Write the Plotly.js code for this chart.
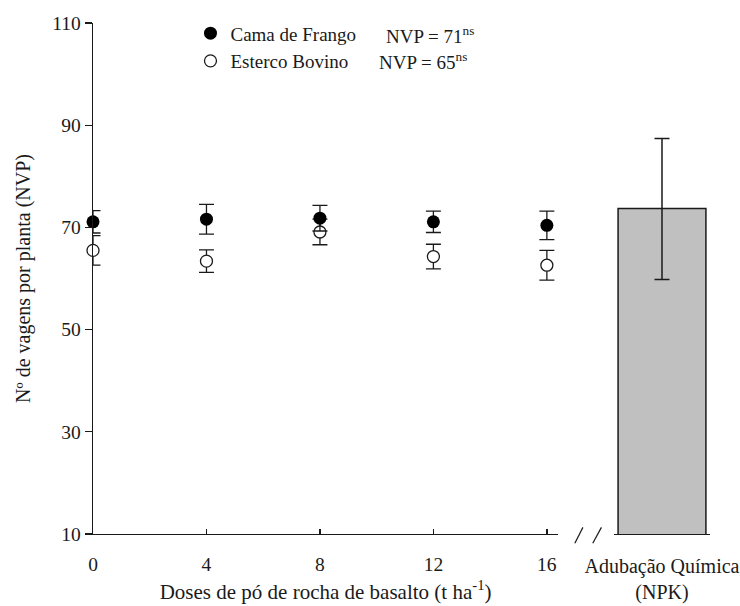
<!DOCTYPE html>
<html>
<head>
<meta charset="utf-8">
<script src="https://cdn.plot.ly/plotly-3.0.1.min.js"></script>
<style>html,body{margin:0;padding:0;background:#fff;}#chart{width:740px;height:606px;}</style>
</head>
<body>
<div id="chart"></div>
<script>
// ---- data ----
const doses = [0, 4, 8, 12, 16];
const camaMean = [71.1, 71.6, 71.8, 71.1, 70.4];
const camaErr = [2.2, 2.9, 2.5, 2.1, 2.8];
const estercoMean = [65.5, 63.4, 69.1, 64.3, 62.6];
const estercoErr = [2.9, 2.2, 2.5, 2.4, 2.9];
const npkCategory = ["Adubação Química<br>(NPK)"];
const npkMean = [73.7];
const npkErrPlus = [13.7];
const npkErrMinus = [13.9];
const seriesNames = ["Cama de Frango", "Esterco Bovino"];
const seriesStats = ["NVP = 71<sup>ns</sup>", "NVP = 65<sup>ns</sup>"];
const yTicks = [10, 30, 50, 70, 90, 110];

const FONT = '"Liberation Serif", "Times New Roman", Times, serif';
const INK = "#1a1a1a";

const traces = [
  {
    type: "scatter", mode: "markers", name: seriesNames[1],
    x: doses, y: estercoMean, xaxis: "x", yaxis: "y", cliponaxis: false,
    marker: {symbol: "circle", size: 12, color: "#ffffff", line: {color: INK, width: 1.3}},
    error_y: {type: "data", array: estercoErr, visible: true, color: INK, thickness: 1.3, width: 7.5}
  },
  {
    type: "scatter", mode: "markers", name: seriesNames[0],
    x: doses, y: camaMean, xaxis: "x", yaxis: "y", cliponaxis: false,
    marker: {symbol: "circle", size: 13, color: "#000000", line: {color: "#000", width: 0}},
    error_y: {type: "data", array: camaErr, visible: true, color: INK, thickness: 1.3, width: 7.5}
  },
  {
    type: "bar", name: "NPK", showlegend: false,
    x: npkCategory, y: npkMean, xaxis: "x2", yaxis: "y", width: 0.915,
    marker: {color: "#c0c0c0", line: {color: INK, width: 1.5}},
    error_y: {type: "data", array: npkErrPlus, arrayminus: npkErrMinus, symmetric: false, visible: true, color: INK, thickness: 1.5, width: 7.5}
  }
];

const layout = {
  width: 740, height: 606,
  margin: {l: 93, r: 30, t: 23, b: 72},
  paper_bgcolor: "#fff", plot_bgcolor: "#fff",
  font: {family: FONT, size: 19.5, color: INK},
  showlegend: true,
  legend: {
    x: 0.158, y: 1.017, xanchor: "left", yanchor: "top",
    traceorder: "reversed", bgcolor: "rgba(0,0,0,0)",
    font: {family: FONT, size: 19, color: INK}, itemwidth: 30
  },
  xaxis: {
    domain: [0, 0.754], range: [0, 16.4], tickvals: doses,
    showline: true, linecolor: INK, linewidth: 1.3,
    ticks: "inside", ticklen: 5, tickwidth: 1.3, tickcolor: INK,
    showgrid: false, zeroline: false, anchor: "y",
    tickfont: {family: FONT, size: 19.5, color: INK}, ticklabelstandoff: 12,
    title: {text: "Doses de pó de rocha de basalto (t ha<sup>-1</sup>)", font: {family: FONT, size: 21, color: INK}, standoff: 10}
  },
  xaxis2: {
    domain: [0.8444, 1], range: [-0.5, 0.5], type: "category",
    showline: true, linecolor: INK, linewidth: 1.3,
    ticks: "", showgrid: false, zeroline: false, anchor: "y",
    tickfont: {family: FONT, size: 20, color: INK}, ticklabelstandoff: 14
  },
  yaxis: {
    range: [10, 110], tickvals: yTicks,
    showline: true, linecolor: INK, linewidth: 1.3,
    ticks: "outside", ticklen: 7, tickwidth: 1.3, tickcolor: INK,
    showgrid: false, zeroline: false, anchor: "x",
    tickfont: {family: FONT, size: 19.5, color: INK},
    title: {text: "Nº de vagens por planta (NVP)", font: {family: FONT, size: 20, color: INK}, standoff: 16}
  },
  annotations: [
    {xref: "paper", yref: "paper", x: 0.472, y: 0.976, xanchor: "left", yanchor: "middle", showarrow: false,
     text: seriesStats[0], font: {family: FONT, size: 19, color: INK}},
    {xref: "paper", yref: "paper", x: 0.461, y: 0.925, xanchor: "left", yanchor: "middle", showarrow: false,
     text: seriesStats[1], font: {family: FONT, size: 19, color: INK}}
  ],
  shapes: [
    {type: "line", xref: "paper", yref: "paper", x0: 0.781, y0: -0.018, x1: 0.794, y1: 0.013, line: {color: INK, width: 1.2}},
    {type: "line", xref: "paper", yref: "paper", x0: 0.810, y0: -0.018, x1: 0.824, y1: 0.013, line: {color: INK, width: 1.2}}
  ]
};

Plotly.newPlot("chart", traces, layout, {displayModeBar: false, staticPlot: true});
</script>
</body>
</html>
